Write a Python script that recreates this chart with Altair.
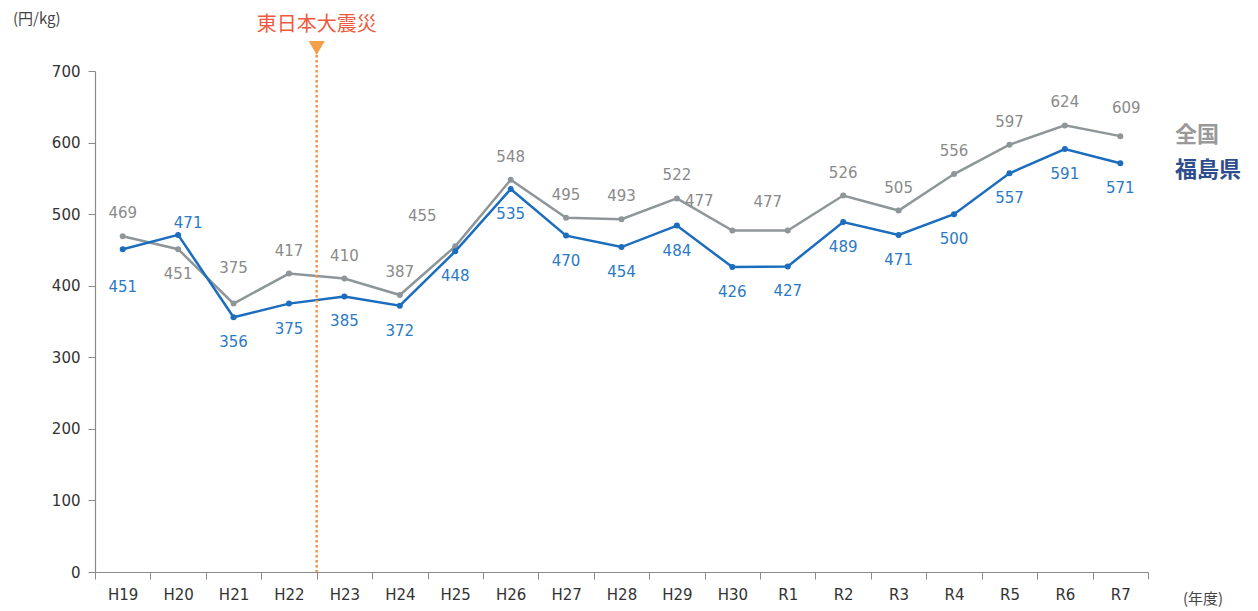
import altair as alt
import pandas as pd

# ---- data ----
years = ["H19", "H20", "H21", "H22", "H23", "H24", "H25", "H26", "H27", "H28",
         "H29", "H30", "R1", "R2", "R3", "R4", "R5", "R6", "R7"]
national = [469, 451, 375, 417, 410, 387, 455, 548, 495, 493,
            522, 477, 477, 526, 505, 556, 597, 624, 609]
fukushima = [451, 471, 356, 375, 385, 372, 448, 535, 470, 454,
             484, 426, 427, 489, 471, 500, 557, 591, 571]
y_ticks = [0, 100, 200, 300, 400, 500, 600, 700]
quake_year = ["H23"]

# label placement classes (styling)
national_place = ["above", "below", "above_far", "above", "above", "above", "upper_left",
                  "above", "above", "above", "above", "upper_left", "upper_left_near",
                  "above", "above", "above", "above", "above", "upper_right"]
fukushima_place = ["below_far", "upper_right_near", "below", "below", "below", "below",
                   "below", "below", "below", "below", "below", "below", "below", "below",
                   "below", "below", "below", "below", "below"]
place_offsets = {
    "above": (0, -23), "below": (0, 25), "above_far": (0, -36),
    "upper_left": (-33, -30), "upper_left_near": (-20, -29), "upper_right": (6, -28),
    "below_far": (0, 38), "upper_right_near": (10, -12),
}

GRAY_LINE = "#8f9699"
BLUE_LINE = "#1b6dbd"
GRAY_TXT = "#8a8a8a"
BLUE_TXT = "#2a7ac6"
NUM_FONT = "DejaVu Sans"
JP_FONT = "Noto Sans CJK JP"

W, H = 1053, 501

df = pd.DataFrame({
    "year": years * 2,
    "value": national + fukushima,
    "series": ["全国"] * len(years) + ["福島県"] * len(years),
    "place": national_place + fukushima_place,
})
quake_df = pd.DataFrame({"year": quake_year})
one = pd.DataFrame({"a": [0]})

x_scale = alt.Scale(domain=years, paddingInner=0, paddingOuter=0)
x_axis = alt.Axis(title=None, labelAngle=0, tickBand="extent", domainColor="#8a8a8a",
                  tickColor="#8a8a8a", tickSize=7, labelPadding=8, labelFontSize=15,
                  labelFont=NUM_FONT, labelColor="#333333", grid=False, domainWidth=1.2)


def X(**kw):
    return alt.X("year:N", scale=x_scale, sort=years, axis=x_axis, **kw)


y_enc = alt.Y("value:Q", scale=alt.Scale(domain=[0, 700], nice=False),
              axis=alt.Axis(values=y_ticks, title=None, grid=False, domainColor="#8a8a8a",
                            tickColor="#8a8a8a", tickSize=7, labelPadding=8,
                            labelFontSize=15, labelFont=NUM_FONT, labelColor="#333333",
                            domainWidth=1.2))

base = alt.Chart(df)
layers = []
for name, lc in [("全国", GRAY_LINE), ("福島県", BLUE_LINE)]:
    sub = base.transform_filter(alt.datum.series == name)
    layers.append(sub.mark_line(color=lc, strokeWidth=2.5).encode(x=X(), y=y_enc))
    layers.append(sub.mark_circle(color=lc, size=36, opacity=1).encode(x=X(), y=y_enc))

for name, tc in [("全国", GRAY_TXT), ("福島県", BLUE_TXT)]:
    for pl, (dx, dy) in place_offsets.items():
        layers.append(
            base.transform_filter((alt.datum.series == name) & (alt.datum.place == pl))
            .mark_text(color=tc, fontSize=15, font=NUM_FONT, dx=dx, dy=dy, baseline="middle")
            .encode(x=X(), y=y_enc, text="value:Q")
        )

qbase = alt.Chart(quake_df)
layers.append(qbase.mark_rule(color="#f5944a", strokeWidth=2.5, strokeDash=[2.5, 2.5])
              .encode(x=X(bandPosition=0), y=alt.value(-26), y2=alt.value(H)))
layers.append(qbase.mark_point(shape="triangle-down", filled=True, color="#f4a04a",
                               size=260, opacity=1)
              .encode(x=X(bandPosition=0), y=alt.value(-23)))
layers.append(qbase.mark_text(text="東日本大震災", fontSize=20, color="#ef5a3e", font=JP_FONT,
                              baseline="middle")
              .encode(x=X(bandPosition=0), y=alt.value(-46)))

ob = alt.Chart(one)
layers.append(ob.mark_text(text="全国", fontSize=22, fontWeight="bold", color="#999999",
                           font=JP_FONT, align="left", baseline="middle")
              .encode(x=alt.value(1080), y=alt.value(64)))
layers.append(ob.mark_text(text="福島県", fontSize=22, fontWeight="bold", color="#2e4d8c",
                           font=JP_FONT, align="left", baseline="middle")
              .encode(x=alt.value(1080), y=alt.value(99)))
layers.append(ob.mark_text(text="(円/kg)", fontSize=15, color="#444444", font=JP_FONT,
                           align="left", baseline="middle")
              .encode(x=alt.value(-82), y=alt.value(-52)))
layers.append(ob.mark_text(text="(年度)", fontSize=15, color="#444444", font=JP_FONT,
                           align="center", baseline="middle")
              .encode(x=alt.value(1108), y=alt.value(528)))

chart = alt.layer(*layers).properties(
    width=W, height=H,
    autosize=alt.AutoSizeParams(type="none"),
    padding={"left": 87, "top": 63, "right": 100, "bottom": 38},
).configure_view(stroke=None)

chart.save("out.html", embed_options={"renderer": "svg", "actions": False})
